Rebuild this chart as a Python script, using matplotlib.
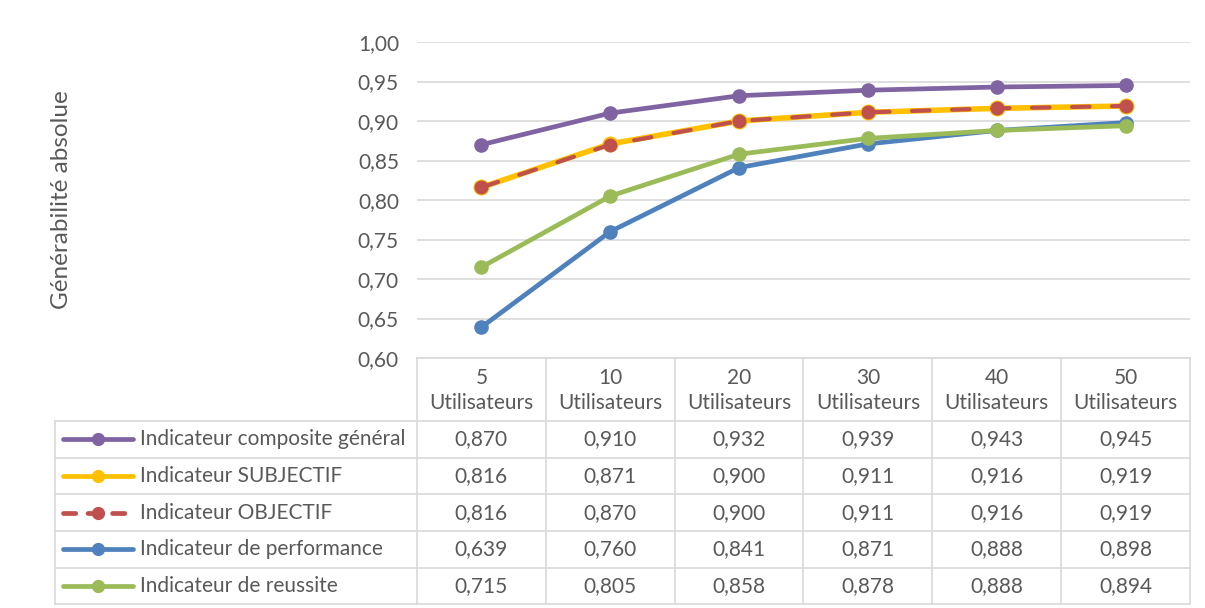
import matplotlib
matplotlib.use("Agg")
import matplotlib.pyplot as plt
from matplotlib.lines import Line2D
from matplotlib.transforms import blended_transform_factory

plt.rcParams['font.family'] = ['Lato', 'DejaVu Sans']

categories = ["5\nUtilisateurs", "10\nUtilisateurs", "20\nUtilisateurs",
              "30\nUtilisateurs", "40\nUtilisateurs", "50\nUtilisateurs"]
series_names = ["Indicateur composite général", "Indicateur SUBJECTIF",
                "Indicateur OBJECTIF", "Indicateur de performance",
                "Indicateur de reussite"]
composite = [0.870, 0.910, 0.932, 0.939, 0.943, 0.945]
subjectif = [0.816, 0.871, 0.900, 0.911, 0.916, 0.919]
objectif = [0.816, 0.870, 0.900, 0.911, 0.916, 0.919]
performance = [0.639, 0.760, 0.841, 0.871, 0.888, 0.898]
reussite = [0.715, 0.805, 0.858, 0.878, 0.888, 0.894]
yticks = [0.60, 0.65, 0.70, 0.75, 0.80, 0.85, 0.90, 0.95, 1.00]

all_series = [composite, subjectif, objectif, performance, reussite]
colors = ["#8064A2", "#FFC000", "#C0504D", "#4F81BD", "#9BBB59"]
styles = ["-", "-", (0, (4.2, 5.4)), "-", "-"]
widths = [3.4, 4.0, 3.0, 3.4, 3.4]
msizes = [9.5, 10.5, 9, 9.5, 9.5]

W, H = 1205, 608
fig = plt.figure(figsize=(W / 100, H / 100), dpi=100)
ax_left, ax_right, ax_top, ax_bot = 417, 1190, 42, 358
ax = fig.add_axes([ax_left / W, 1 - ax_bot / H, (ax_right - ax_left) / W, (ax_bot - ax_top) / H])

txt = "#595959"
grid = "#D9D9D9"
fs = 15

x = list(range(len(categories)))
for vals, c, ls, lw_, ms_ in zip(all_series, colors, styles, widths, msizes):
    ax.plot(x, vals, color=c, lw=lw_, ls=ls, marker="o", ms=ms_, mfc=c, mec=c,
            solid_capstyle="round", dash_capstyle="round", zorder=3)

ax.set_xlim(-0.5, len(categories) - 0.5)
ax.set_ylim(0.60, 1.00)
ax.set_yticks(yticks)
ax.set_yticklabels([f"{v:.2f}".replace(".", ",") for v in yticks], color=txt, fontsize=fs)
ax.set_xticks([])
ax.tick_params(axis="y", length=0, pad=13)
for s in ax.spines.values():
    s.set_visible(False)
ax.grid(axis="y", color=grid, lw=1.2, zorder=0)
ax.set_axisbelow(True)

fig.text(62 / W, 1 - 200 / H, "Générabilité absolue", rotation=90, ha="center", va="center",
         color=txt, fontsize=17.5)

# Data table
bt = blended_transform_factory(ax.transData, fig.transFigure)
def fy(py):
    return 1 - py / H

header_top = 358
row_edges = [421, 457.7, 494.3, 531, 567.7, 604.3]
table_left = 55
lc = "#D9D9D9"
lw = 1.2

for k in range(len(categories) + 1):
    xb = -0.5 + k
    fig.add_artist(Line2D([xb, xb], [fy(header_top), fy(row_edges[-1])], transform=bt,
                          color=lc, lw=lw))
fig.add_artist(Line2D([-0.5, len(categories) - 0.5], [fy(header_top)] * 2, transform=bt,
                      color=lc, lw=lw))
for ry in row_edges:
    fig.add_artist(Line2D([table_left / W, ax_right / W], [fy(ry)] * 2,
                          transform=fig.transFigure, color=lc, lw=lw))
fig.add_artist(Line2D([table_left / W] * 2, [fy(row_edges[0]), fy(row_edges[-1])],
                      transform=fig.transFigure, color=lc, lw=lw))

for k, cat in enumerate(categories):
    fig.text(k, fy((header_top + row_edges[0]) / 2 + 1), cat, transform=bt, ha="center",
             va="center", color=txt, fontsize=fs, linespacing=1.35)

for i, (name, vals, c, ls) in enumerate(zip(series_names, all_series, colors, styles)):
    yc = fy((row_edges[i] + row_edges[i + 1]) / 2)
    fig.add_artist(Line2D([63 / W, 133 / W], [yc, yc], transform=fig.transFigure, color=c,
                          lw=3.4, ls=(0, (2.6, 2.6)) if ls != "-" else "-",
                          solid_capstyle="round", dash_capstyle="round"))
    fig.add_artist(Line2D([98 / W], [yc], transform=fig.transFigure, color=c, marker="o",
                          ms=8.5, mfc=c, mec=c, lw=0))
    fig.text(140 / W, yc, name, ha="left", va="center", color=txt, fontsize=fs)
    for k, v in enumerate(vals):
        fig.text(k, yc, f"{v:.3f}".replace(".", ","), transform=bt, ha="center",
                 va="center", color=txt, fontsize=fs)

fig.savefig("out.png", dpi=100, facecolor="white")
